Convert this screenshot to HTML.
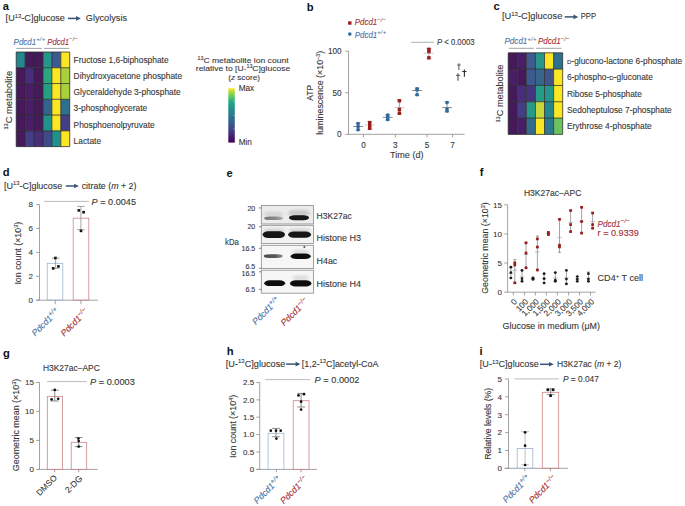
<!DOCTYPE html>
<html><head><meta charset="utf-8"><style>
html,body{margin:0;padding:0;background:#fff;width:685px;height:506px;overflow:hidden}
svg{display:block;font-family:"Liberation Sans", sans-serif}
</style></head><body>
<svg width="685" height="506" viewBox="0 0 685 506">
<rect width="685" height="506" fill="#fff"/>
<text x="2.80" y="10.30" font-size="11.2" fill="#111" font-weight="bold">a</text>
<text x="5.60" y="21.40" font-size="8.6" fill="#363636" stroke="#363636" stroke-width="0.1" textLength="59.30" lengthAdjust="spacingAndGlyphs">[U<tspan dy="-3.6" font-size="5.6">13</tspan><tspan dy="3.6">-C]glucose</tspan></text>
<line x1="67.90" y1="18.40" x2="77.90" y2="18.40" stroke="#3b5476" stroke-width="1.5"/>
<path d="M76.10,16.10 L80.90,18.40 L76.10,20.70 Z" fill="#3b5476"/>
<text x="85.80" y="21.40" font-size="8.6" fill="#363636" stroke="#363636" stroke-width="0.1" textLength="41.20" lengthAdjust="spacingAndGlyphs">Glycolysis</text>
<text x="13.60" y="44.80" font-size="8.6" fill="#4671a5" stroke="#4671a5" stroke-width="0.1" font-style="italic" textLength="31.70" lengthAdjust="spacingAndGlyphs">Pdcd1<tspan dy="-3.4" font-size="6.19" letter-spacing="0.3">+/+</tspan></text>
<text x="47.30" y="44.80" font-size="8.6" fill="#a22c32" stroke="#a22c32" stroke-width="0.1" font-style="italic" textLength="30.70" lengthAdjust="spacingAndGlyphs">Pdcd1<tspan dy="-3.4" font-size="6.19" letter-spacing="0.3">−/−</tspan></text>
<line x1="16.30" y1="48.40" x2="41.90" y2="48.40" stroke="#8a8a8a" stroke-width="0.8" />
<line x1="44.00" y1="48.40" x2="69.30" y2="48.40" stroke="#8a8a8a" stroke-width="0.8" />
<rect x="16.20" y="52.00" width="8.92" height="15.77" fill="#24868e" />
<rect x="25.12" y="52.00" width="8.92" height="15.77" fill="#45195a" />
<rect x="34.04" y="52.00" width="8.92" height="15.77" fill="#45195a" />
<rect x="42.96" y="52.00" width="8.92" height="15.77" fill="#26968a" />
<rect x="51.88" y="52.00" width="8.92" height="15.77" fill="#3b5a8f" />
<rect x="60.80" y="52.00" width="8.92" height="15.77" fill="#fbe623" />
<rect x="16.20" y="67.77" width="8.92" height="15.77" fill="#45195a" />
<rect x="25.12" y="67.77" width="8.92" height="15.77" fill="#472d7b" />
<rect x="34.04" y="67.77" width="8.92" height="15.77" fill="#45195a" />
<rect x="42.96" y="67.77" width="8.92" height="15.77" fill="#2aa57f" />
<rect x="51.88" y="67.77" width="8.92" height="15.77" fill="#fbe623" />
<rect x="60.80" y="67.77" width="8.92" height="15.77" fill="#a8d13c" />
<rect x="16.20" y="83.54" width="8.92" height="15.77" fill="#45195a" />
<rect x="25.12" y="83.54" width="8.92" height="15.77" fill="#481f66" />
<rect x="34.04" y="83.54" width="8.92" height="15.77" fill="#45195a" />
<rect x="42.96" y="83.54" width="8.92" height="15.77" fill="#26a085" />
<rect x="51.88" y="83.54" width="8.92" height="15.77" fill="#fbe623" />
<rect x="60.80" y="83.54" width="8.92" height="15.77" fill="#a8d13c" />
<rect x="16.20" y="99.31" width="8.92" height="15.77" fill="#45195a" />
<rect x="25.12" y="99.31" width="8.92" height="15.77" fill="#481f66" />
<rect x="34.04" y="99.31" width="8.92" height="15.77" fill="#45195a" />
<rect x="42.96" y="99.31" width="8.92" height="15.77" fill="#32658d" />
<rect x="51.88" y="99.31" width="8.92" height="15.77" fill="#fbe623" />
<rect x="60.80" y="99.31" width="8.92" height="15.77" fill="#2d718e" />
<rect x="16.20" y="115.08" width="8.92" height="15.77" fill="#45195a" />
<rect x="25.12" y="115.08" width="8.92" height="15.77" fill="#481f66" />
<rect x="34.04" y="115.08" width="8.92" height="15.77" fill="#45195a" />
<rect x="42.96" y="115.08" width="8.92" height="15.77" fill="#21918c" />
<rect x="51.88" y="115.08" width="8.92" height="15.77" fill="#fbe623" />
<rect x="60.80" y="115.08" width="8.92" height="15.77" fill="#433e85" />
<rect x="16.20" y="130.85" width="8.92" height="15.77" fill="#45195a" />
<rect x="25.12" y="130.85" width="8.92" height="15.77" fill="#433e85" />
<rect x="34.04" y="130.85" width="8.92" height="15.77" fill="#472d7b" />
<rect x="42.96" y="130.85" width="8.92" height="15.77" fill="#404a88" />
<rect x="51.88" y="130.85" width="8.92" height="15.77" fill="#21918c" />
<rect x="60.80" y="130.85" width="8.92" height="15.77" fill="#fbe623" />
<line x1="16.20" y1="52.00" x2="69.72" y2="52.00" stroke="#262626" stroke-width="0.75" />
<line x1="16.20" y1="67.77" x2="69.72" y2="67.77" stroke="#262626" stroke-width="0.75" />
<line x1="16.20" y1="83.54" x2="69.72" y2="83.54" stroke="#262626" stroke-width="0.75" />
<line x1="16.20" y1="99.31" x2="69.72" y2="99.31" stroke="#262626" stroke-width="0.75" />
<line x1="16.20" y1="115.08" x2="69.72" y2="115.08" stroke="#262626" stroke-width="0.75" />
<line x1="16.20" y1="130.85" x2="69.72" y2="130.85" stroke="#262626" stroke-width="0.75" />
<line x1="16.20" y1="146.62" x2="69.72" y2="146.62" stroke="#262626" stroke-width="0.75" />
<line x1="16.20" y1="52.00" x2="16.20" y2="146.62" stroke="#262626" stroke-width="0.75" />
<line x1="25.12" y1="52.00" x2="25.12" y2="146.62" stroke="#262626" stroke-width="0.75" />
<line x1="34.04" y1="52.00" x2="34.04" y2="146.62" stroke="#262626" stroke-width="0.75" />
<line x1="42.96" y1="52.00" x2="42.96" y2="146.62" stroke="#262626" stroke-width="0.75" />
<line x1="51.88" y1="52.00" x2="51.88" y2="146.62" stroke="#262626" stroke-width="0.75" />
<line x1="60.80" y1="52.00" x2="60.80" y2="146.62" stroke="#262626" stroke-width="0.75" />
<line x1="69.72" y1="52.00" x2="69.72" y2="146.62" stroke="#262626" stroke-width="0.75" />
<text x="73.60" y="63.00" font-size="8.4" fill="#363636" stroke="#363636" stroke-width="0.1">Fructose 1,6-biphosphate</text>
<text x="73.60" y="79.16" font-size="8.4" fill="#363636" stroke="#363636" stroke-width="0.1">Dihydroxyacetone phosphate</text>
<text x="73.60" y="95.32" font-size="8.4" fill="#363636" stroke="#363636" stroke-width="0.1">Glyceraldehyde 3-phosphate</text>
<text x="73.60" y="111.48" font-size="8.4" fill="#363636" stroke="#363636" stroke-width="0.1">3-phosphoglycerate</text>
<text x="73.60" y="127.64" font-size="8.4" fill="#363636" stroke="#363636" stroke-width="0.1">Phosphoenolpyruvate</text>
<text x="73.60" y="143.80" font-size="8.4" fill="#363636" stroke="#363636" stroke-width="0.1">Lactate</text>
<text x="11.80" y="100.20" font-size="9.3" fill="#363636" stroke="#363636" stroke-width="0.1" text-anchor="middle" transform="rotate(-90 11.80 100.20)" textLength="58.60" lengthAdjust="spacingAndGlyphs"><tspan dy="-3.4" font-size="5.6">13</tspan><tspan dy="3.4">C metabolite</tspan></text>
<text x="243.00" y="63.10" font-size="8.0" fill="#363636" stroke="#363636" stroke-width="0.1" text-anchor="middle" textLength="91.10" lengthAdjust="spacingAndGlyphs"><tspan dy="-3" font-size="5">13</tspan><tspan dy="3">C metabolite ion count</tspan></text>
<text x="243.00" y="71.40" font-size="8.0" fill="#363636" stroke="#363636" stroke-width="0.1" text-anchor="middle" textLength="94.40" lengthAdjust="spacingAndGlyphs">relative to [U-<tspan dy="-3" font-size="5">13</tspan><tspan dy="3">C]glucose</tspan></text>
<text x="244.10" y="79.80" font-size="8.0" fill="#363636" stroke="#363636" stroke-width="0.1" text-anchor="middle" textLength="31.80" lengthAdjust="spacingAndGlyphs">(<tspan font-style="italic">z</tspan> score)</text>
<defs><linearGradient id="vir" x1="0" y1="1" x2="0" y2="0"><stop offset="0" stop-color="#440154"/><stop offset="0.13" stop-color="#482475"/><stop offset="0.25" stop-color="#414487"/><stop offset="0.38" stop-color="#355f8d"/><stop offset="0.5" stop-color="#2a788e"/><stop offset="0.63" stop-color="#21918c"/><stop offset="0.75" stop-color="#22a884"/><stop offset="0.88" stop-color="#7ad151"/><stop offset="1" stop-color="#fde725"/></linearGradient></defs>
<rect x="228.30" y="88.30" width="6.50" height="54.30" fill="url(#vir)" />
<line x1="233.30" y1="129.03" x2="234.80" y2="129.03" stroke="#ccc" stroke-width="0.6" />
<line x1="233.30" y1="115.45" x2="234.80" y2="115.45" stroke="#ccc" stroke-width="0.6" />
<line x1="233.30" y1="101.88" x2="234.80" y2="101.88" stroke="#ccc" stroke-width="0.6" />
<text x="238.70" y="91.30" font-size="8.2" fill="#363636" stroke="#363636" stroke-width="0.1">Max</text>
<text x="238.70" y="145.30" font-size="8.2" fill="#363636" stroke="#363636" stroke-width="0.1">Min</text>
<text x="306.80" y="10.60" font-size="11.2" fill="#111" font-weight="bold">b</text>
<rect x="348.10" y="21.30" width="3.40" height="3.40" fill="#9b1b1e" />
<text x="354.80" y="25.40" font-size="8.6" fill="#a22c32" stroke="#a22c32" stroke-width="0.1" font-style="italic" textLength="31.50" lengthAdjust="spacingAndGlyphs">Pdcd1<tspan dy="-3.4" font-size="6.19" letter-spacing="0.3">−/−</tspan></text>
<circle cx="349.80" cy="34.10" r="1.8" fill="#2f6a9f"/>
<text x="354.80" y="37.50" font-size="8.6" fill="#4671a5" stroke="#4671a5" stroke-width="0.1" font-style="italic" textLength="31.50" lengthAdjust="spacingAndGlyphs">Pdcd1<tspan dy="-3.4" font-size="6.19" letter-spacing="0.3">+/+</tspan></text>
<line x1="348.50" y1="51.20" x2="348.50" y2="134.30" stroke="#8a8a8a" stroke-width="0.8" />
<line x1="348.10" y1="134.30" x2="464.70" y2="134.30" stroke="#8a8a8a" stroke-width="0.8" />
<line x1="345.30" y1="51.20" x2="348.50" y2="51.20" stroke="#8a8a8a" stroke-width="0.8" />
<text x="341.60" y="54.10" font-size="8.2" fill="#363636" stroke="#363636" stroke-width="0.1" text-anchor="end">100</text>
<line x1="345.30" y1="92.70" x2="348.50" y2="92.70" stroke="#8a8a8a" stroke-width="0.8" />
<text x="341.60" y="95.60" font-size="8.2" fill="#363636" stroke="#363636" stroke-width="0.1" text-anchor="end">50</text>
<line x1="345.30" y1="134.30" x2="348.50" y2="134.30" stroke="#8a8a8a" stroke-width="0.8" />
<text x="341.60" y="137.20" font-size="8.2" fill="#363636" stroke="#363636" stroke-width="0.1" text-anchor="end">0</text>
<line x1="363.50" y1="134.30" x2="363.50" y2="137.40" stroke="#8a8a8a" stroke-width="0.8" />
<text x="363.50" y="147.70" font-size="8.2" fill="#363636" stroke="#363636" stroke-width="0.1" text-anchor="middle">0</text>
<line x1="395.30" y1="134.30" x2="395.30" y2="137.40" stroke="#8a8a8a" stroke-width="0.8" />
<text x="395.30" y="147.70" font-size="8.2" fill="#363636" stroke="#363636" stroke-width="0.1" text-anchor="middle">3</text>
<line x1="427.00" y1="134.30" x2="427.00" y2="137.40" stroke="#8a8a8a" stroke-width="0.8" />
<text x="427.00" y="147.70" font-size="8.2" fill="#363636" stroke="#363636" stroke-width="0.1" text-anchor="middle">5</text>
<line x1="452.60" y1="134.30" x2="452.60" y2="137.40" stroke="#8a8a8a" stroke-width="0.8" />
<text x="452.60" y="147.70" font-size="8.2" fill="#363636" stroke="#363636" stroke-width="0.1" text-anchor="middle">7</text>
<text x="406.80" y="157.60" font-size="8.4" fill="#363636" stroke="#363636" stroke-width="0.1" text-anchor="middle" textLength="33.40" lengthAdjust="spacingAndGlyphs">Time (d)</text>
<text x="312.60" y="92.80" font-size="8.4" fill="#363636" stroke="#363636" stroke-width="0.1" text-anchor="middle" transform="rotate(-90 312.60 92.80)">ATP</text>
<text x="323.20" y="92.80" font-size="8.4" fill="#363636" stroke="#363636" stroke-width="0.1" text-anchor="middle" transform="rotate(-90 323.20 92.80)" textLength="84.00" lengthAdjust="spacingAndGlyphs">luminescence (×10<tspan dy="-3" font-size="5">−3</tspan><tspan dy="3">)</tspan></text>
<line x1="411.20" y1="42.30" x2="434.00" y2="42.30" stroke="#999" stroke-width="0.8" />
<text x="437.00" y="45.20" font-size="8.2" fill="#363636" stroke="#363636" stroke-width="0.1" textLength="37.50" lengthAdjust="spacingAndGlyphs"><tspan font-style="italic">P</tspan> &lt; 0.0003</text>
<line x1="358.10" y1="122.70" x2="358.10" y2="130.40" stroke="#666" stroke-width="0.6" />
<line x1="355.70" y1="122.70" x2="360.50" y2="122.70" stroke="#666" stroke-width="0.6" />
<line x1="355.70" y1="130.40" x2="360.50" y2="130.40" stroke="#666" stroke-width="0.6" />
<line x1="353.20" y1="126.50" x2="363.00" y2="126.50" stroke="#555" stroke-width="0.7" />
<circle cx="358.10" cy="123.50" r="1.85" fill="#2f6a9f"/>
<circle cx="358.10" cy="126.40" r="1.85" fill="#2f6a9f"/>
<circle cx="358.10" cy="129.60" r="1.85" fill="#2f6a9f"/>
<line x1="369.70" y1="121.80" x2="369.70" y2="129.10" stroke="#666" stroke-width="0.6" />
<line x1="367.30" y1="121.80" x2="372.10" y2="121.80" stroke="#666" stroke-width="0.6" />
<line x1="367.30" y1="129.10" x2="372.10" y2="129.10" stroke="#666" stroke-width="0.6" />
<line x1="364.80" y1="124.90" x2="374.60" y2="124.90" stroke="#bbb" stroke-width="0.7" />
<rect x="368.00" y="120.90" width="3.40" height="3.40" fill="#9b1b1e" />
<rect x="368.00" y="123.70" width="3.40" height="3.40" fill="#9b1b1e" />
<rect x="368.00" y="126.60" width="3.40" height="3.40" fill="#9b1b1e" />
<line x1="387.70" y1="114.40" x2="387.70" y2="120.20" stroke="#666" stroke-width="0.6" />
<line x1="385.30" y1="114.40" x2="390.10" y2="114.40" stroke="#666" stroke-width="0.6" />
<line x1="385.30" y1="120.20" x2="390.10" y2="120.20" stroke="#666" stroke-width="0.6" />
<line x1="382.80" y1="117.30" x2="392.60" y2="117.30" stroke="#555" stroke-width="0.7" />
<circle cx="387.70" cy="115.20" r="1.85" fill="#2f6a9f"/>
<circle cx="387.70" cy="117.30" r="1.85" fill="#2f6a9f"/>
<circle cx="387.70" cy="119.40" r="1.85" fill="#2f6a9f"/>
<line x1="399.40" y1="100.00" x2="399.40" y2="114.00" stroke="#666" stroke-width="0.6" />
<line x1="397.00" y1="100.00" x2="401.80" y2="100.00" stroke="#666" stroke-width="0.6" />
<line x1="397.00" y1="114.00" x2="401.80" y2="114.00" stroke="#666" stroke-width="0.6" />
<line x1="394.50" y1="107.50" x2="404.30" y2="107.50" stroke="#bbb" stroke-width="0.7" />
<rect x="397.70" y="99.10" width="3.40" height="3.40" fill="#9b1b1e" />
<rect x="397.70" y="107.70" width="3.40" height="3.40" fill="#9b1b1e" />
<rect x="397.70" y="111.50" width="3.40" height="3.40" fill="#9b1b1e" />
<line x1="417.10" y1="88.00" x2="417.10" y2="95.40" stroke="#666" stroke-width="0.6" />
<line x1="414.70" y1="88.00" x2="419.50" y2="88.00" stroke="#666" stroke-width="0.6" />
<line x1="414.70" y1="95.40" x2="419.50" y2="95.40" stroke="#666" stroke-width="0.6" />
<line x1="412.20" y1="90.50" x2="422.00" y2="90.50" stroke="#555" stroke-width="0.7" />
<circle cx="417.10" cy="88.80" r="1.85" fill="#2f6a9f"/>
<circle cx="417.10" cy="90.00" r="1.85" fill="#2f6a9f"/>
<circle cx="417.10" cy="94.60" r="1.85" fill="#2f6a9f"/>
<line x1="428.90" y1="48.50" x2="428.90" y2="58.60" stroke="#666" stroke-width="0.6" />
<line x1="426.50" y1="48.50" x2="431.30" y2="48.50" stroke="#666" stroke-width="0.6" />
<line x1="426.50" y1="58.60" x2="431.30" y2="58.60" stroke="#666" stroke-width="0.6" />
<line x1="424.00" y1="53.30" x2="433.80" y2="53.30" stroke="#bbb" stroke-width="0.7" />
<rect x="427.20" y="47.60" width="3.40" height="3.40" fill="#9b1b1e" />
<rect x="427.20" y="49.80" width="3.40" height="3.40" fill="#9b1b1e" />
<rect x="427.20" y="56.10" width="3.40" height="3.40" fill="#9b1b1e" />
<line x1="447.00" y1="101.80" x2="447.00" y2="111.80" stroke="#666" stroke-width="0.6" />
<line x1="444.60" y1="101.80" x2="449.40" y2="101.80" stroke="#666" stroke-width="0.6" />
<line x1="444.60" y1="111.80" x2="449.40" y2="111.80" stroke="#666" stroke-width="0.6" />
<line x1="442.10" y1="107.60" x2="451.90" y2="107.60" stroke="#555" stroke-width="0.7" />
<circle cx="447.00" cy="102.60" r="1.85" fill="#2f6a9f"/>
<circle cx="447.00" cy="109.00" r="1.85" fill="#2f6a9f"/>
<circle cx="447.00" cy="111.00" r="1.85" fill="#2f6a9f"/>
<line x1="458.90" y1="63.20" x2="458.90" y2="69.90" stroke="#666" stroke-width="1.15" />
<line x1="457.00" y1="65.00" x2="460.80" y2="65.00" stroke="#666" stroke-width="1.0" />
<line x1="458.00" y1="73.30" x2="458.00" y2="80.70" stroke="#555" stroke-width="1.15" />
<line x1="455.90" y1="75.40" x2="460.10" y2="75.40" stroke="#555" stroke-width="1.0" />
<line x1="464.40" y1="69.40" x2="464.40" y2="76.80" stroke="#333" stroke-width="1.15" />
<line x1="462.20" y1="71.50" x2="466.60" y2="71.50" stroke="#333" stroke-width="1.0" />
<text x="493.60" y="10.30" font-size="11.2" fill="#111" font-weight="bold">c</text>
<text x="502.00" y="19.30" font-size="8.6" fill="#363636" stroke="#363636" stroke-width="0.1" textLength="60.30" lengthAdjust="spacingAndGlyphs">[U<tspan dy="-3.6" font-size="5.6">13</tspan><tspan dy="3.6">-C]glucose</tspan></text>
<line x1="564.70" y1="16.90" x2="575.30" y2="16.90" stroke="#3b5476" stroke-width="1.5"/>
<path d="M573.50,14.60 L578.30,16.90 L573.50,19.20 Z" fill="#3b5476"/>
<text x="580.70" y="19.30" font-size="8.6" fill="#363636" stroke="#363636" stroke-width="0.1" textLength="15.30" lengthAdjust="spacingAndGlyphs">PPP</text>
<text x="504.50" y="44.20" font-size="8.6" fill="#4671a5" stroke="#4671a5" stroke-width="0.1" font-style="italic" textLength="32.10" lengthAdjust="spacingAndGlyphs">Pdcd1<tspan dy="-3.4" font-size="6.19" letter-spacing="0.3">+/+</tspan></text>
<text x="537.90" y="44.20" font-size="8.6" fill="#a22c32" stroke="#a22c32" stroke-width="0.1" font-style="italic" textLength="31.90" lengthAdjust="spacingAndGlyphs">Pdcd1<tspan dy="-3.4" font-size="6.19" letter-spacing="0.3">−/−</tspan></text>
<line x1="508.80" y1="48.30" x2="533.90" y2="48.30" stroke="#8a8a8a" stroke-width="0.8" />
<line x1="536.00" y1="48.30" x2="561.50" y2="48.30" stroke="#8a8a8a" stroke-width="0.8" />
<rect x="508.20" y="52.80" width="9.08" height="16.32" fill="#45195a" />
<rect x="517.28" y="52.80" width="9.08" height="16.32" fill="#481f66" />
<rect x="526.36" y="52.80" width="9.08" height="16.32" fill="#3f5a8e" />
<rect x="535.44" y="52.80" width="9.08" height="16.32" fill="#26968a" />
<rect x="544.52" y="52.80" width="9.08" height="16.32" fill="#fbe623" />
<rect x="553.60" y="52.80" width="9.08" height="16.32" fill="#2d718e" />
<rect x="508.20" y="69.12" width="9.08" height="16.32" fill="#481f66" />
<rect x="517.28" y="69.12" width="9.08" height="16.32" fill="#45195a" />
<rect x="526.36" y="69.12" width="9.08" height="16.32" fill="#3b5a8f" />
<rect x="535.44" y="69.12" width="9.08" height="16.32" fill="#37658c" />
<rect x="544.52" y="69.12" width="9.08" height="16.32" fill="#41558b" />
<rect x="553.60" y="69.12" width="9.08" height="16.32" fill="#fbe623" />
<rect x="508.20" y="85.44" width="9.08" height="16.32" fill="#45195a" />
<rect x="517.28" y="85.44" width="9.08" height="16.32" fill="#472d7b" />
<rect x="526.36" y="85.44" width="9.08" height="16.32" fill="#45357f" />
<rect x="535.44" y="85.44" width="9.08" height="16.32" fill="#259c87" />
<rect x="544.52" y="85.44" width="9.08" height="16.32" fill="#26968a" />
<rect x="553.60" y="85.44" width="9.08" height="16.32" fill="#fbe623" />
<rect x="508.20" y="101.76" width="9.08" height="16.32" fill="#45195a" />
<rect x="517.28" y="101.76" width="9.08" height="16.32" fill="#453e85" />
<rect x="526.36" y="101.76" width="9.08" height="16.32" fill="#269a88" />
<rect x="535.44" y="101.76" width="9.08" height="16.32" fill="#c6d83a" />
<rect x="544.52" y="101.76" width="9.08" height="16.32" fill="#24868e" />
<rect x="553.60" y="101.76" width="9.08" height="16.32" fill="#fbe623" />
<rect x="508.20" y="118.08" width="9.08" height="16.32" fill="#45195a" />
<rect x="517.28" y="118.08" width="9.08" height="16.32" fill="#481f66" />
<rect x="526.36" y="118.08" width="9.08" height="16.32" fill="#336b8d" />
<rect x="535.44" y="118.08" width="9.08" height="16.32" fill="#fbe623" />
<rect x="544.52" y="118.08" width="9.08" height="16.32" fill="#2c7a8e" />
<rect x="553.60" y="118.08" width="9.08" height="16.32" fill="#6cc25f" />
<line x1="508.20" y1="52.80" x2="562.68" y2="52.80" stroke="#262626" stroke-width="0.75" />
<line x1="508.20" y1="69.12" x2="562.68" y2="69.12" stroke="#262626" stroke-width="0.75" />
<line x1="508.20" y1="85.44" x2="562.68" y2="85.44" stroke="#262626" stroke-width="0.75" />
<line x1="508.20" y1="101.76" x2="562.68" y2="101.76" stroke="#262626" stroke-width="0.75" />
<line x1="508.20" y1="118.08" x2="562.68" y2="118.08" stroke="#262626" stroke-width="0.75" />
<line x1="508.20" y1="134.40" x2="562.68" y2="134.40" stroke="#262626" stroke-width="0.75" />
<line x1="508.20" y1="52.80" x2="508.20" y2="134.40" stroke="#262626" stroke-width="0.75" />
<line x1="517.28" y1="52.80" x2="517.28" y2="134.40" stroke="#262626" stroke-width="0.75" />
<line x1="526.36" y1="52.80" x2="526.36" y2="134.40" stroke="#262626" stroke-width="0.75" />
<line x1="535.44" y1="52.80" x2="535.44" y2="134.40" stroke="#262626" stroke-width="0.75" />
<line x1="544.52" y1="52.80" x2="544.52" y2="134.40" stroke="#262626" stroke-width="0.75" />
<line x1="553.60" y1="52.80" x2="553.60" y2="134.40" stroke="#262626" stroke-width="0.75" />
<line x1="562.68" y1="52.80" x2="562.68" y2="134.40" stroke="#262626" stroke-width="0.75" />
<text x="566.90" y="64.10" font-size="8.4" fill="#363636" stroke="#363636" stroke-width="0.1"><tspan font-size="6.2">D</tspan>-glucono-lactone 6-phosphate</text>
<text x="566.90" y="80.42" font-size="8.4" fill="#363636" stroke="#363636" stroke-width="0.1">6-phospho-<tspan font-size="6.2">D</tspan>-gluconate</text>
<text x="566.90" y="96.74" font-size="8.4" fill="#363636" stroke="#363636" stroke-width="0.1">Ribose 5-phosphate</text>
<text x="566.90" y="113.06" font-size="8.4" fill="#363636" stroke="#363636" stroke-width="0.1">Sedoheptulose 7-phosphate</text>
<text x="566.90" y="129.38" font-size="8.4" fill="#363636" stroke="#363636" stroke-width="0.1">Erythrose 4-phosphate</text>
<text x="503.30" y="93.50" font-size="9.3" fill="#363636" stroke="#363636" stroke-width="0.1" text-anchor="middle" transform="rotate(-90 503.30 93.50)" textLength="58.00" lengthAdjust="spacingAndGlyphs"><tspan dy="-3.4" font-size="5.6">13</tspan><tspan dy="3.4">C metabolite</tspan></text>
<text x="2.80" y="176.30" font-size="11.2" fill="#111" font-weight="bold">d</text>
<text x="4.00" y="188.90" font-size="8.6" fill="#363636" stroke="#363636" stroke-width="0.1" textLength="58.30" lengthAdjust="spacingAndGlyphs">[U<tspan dy="-3.6" font-size="5.6">13</tspan><tspan dy="3.6">-C]glucose</tspan></text>
<line x1="65.80" y1="186.00" x2="75.90" y2="186.00" stroke="#3b5476" stroke-width="1.5"/>
<path d="M74.10,183.70 L78.90,186.00 L74.10,188.30 Z" fill="#3b5476"/>
<text x="81.70" y="188.90" font-size="8.6" fill="#363636" stroke="#363636" stroke-width="0.1" textLength="54.80" lengthAdjust="spacingAndGlyphs">citrate (<tspan font-style="italic">m</tspan> + 2)</text>
<line x1="44.00" y1="201.40" x2="88.90" y2="201.40" stroke="#aaa" stroke-width="0.8" />
<text x="91.60" y="204.50" font-size="8.4" fill="#363636" stroke="#363636" stroke-width="0.1" textLength="44.40" lengthAdjust="spacingAndGlyphs"><tspan font-style="italic">P</tspan> = 0.0045</text>
<line x1="39.50" y1="204.50" x2="39.50" y2="300.20" stroke="#8a8a8a" stroke-width="0.8" />
<line x1="36.40" y1="300.20" x2="97.80" y2="300.20" stroke="#8a8a8a" stroke-width="0.8" />
<line x1="36.10" y1="204.50" x2="39.50" y2="204.50" stroke="#8a8a8a" stroke-width="0.8" />
<text x="32.90" y="207.30" font-size="8.0" fill="#363636" stroke="#363636" stroke-width="0.1" text-anchor="end">8</text>
<line x1="36.10" y1="228.40" x2="39.50" y2="228.40" stroke="#8a8a8a" stroke-width="0.8" />
<text x="32.90" y="231.20" font-size="8.0" fill="#363636" stroke="#363636" stroke-width="0.1" text-anchor="end">6</text>
<line x1="36.10" y1="252.40" x2="39.50" y2="252.40" stroke="#8a8a8a" stroke-width="0.8" />
<text x="32.90" y="255.20" font-size="8.0" fill="#363636" stroke="#363636" stroke-width="0.1" text-anchor="end">4</text>
<line x1="36.10" y1="276.30" x2="39.50" y2="276.30" stroke="#8a8a8a" stroke-width="0.8" />
<text x="32.90" y="279.10" font-size="8.0" fill="#363636" stroke="#363636" stroke-width="0.1" text-anchor="end">2</text>
<line x1="36.10" y1="300.20" x2="39.50" y2="300.20" stroke="#8a8a8a" stroke-width="0.8" />
<text x="32.90" y="303.00" font-size="8.0" fill="#363636" stroke="#363636" stroke-width="0.1" text-anchor="end">0</text>
<rect x="47.20" y="263.30" width="15.60" height="36.90" fill="none" stroke="#9db4d3" stroke-width="0.8" />
<rect x="73.20" y="218.20" width="15.60" height="82.00" fill="none" stroke="#cc8689" stroke-width="0.8" />
<line x1="55.20" y1="300.20" x2="55.20" y2="304.20" stroke="#8a8a8a" stroke-width="0.8" />
<line x1="80.90" y1="300.20" x2="80.90" y2="304.20" stroke="#8a8a8a" stroke-width="0.8" />
<line x1="55.60" y1="258.20" x2="55.60" y2="268.30" stroke="#888" stroke-width="0.75" />
<line x1="51.80" y1="258.20" x2="59.40" y2="258.20" stroke="#888" stroke-width="0.75" />
<line x1="51.80" y1="268.30" x2="59.40" y2="268.30" stroke="#888" stroke-width="0.75" />
<line x1="80.90" y1="206.40" x2="80.90" y2="229.70" stroke="#888" stroke-width="0.75" />
<line x1="77.10" y1="206.40" x2="84.70" y2="206.40" stroke="#888" stroke-width="0.75" />
<line x1="77.10" y1="229.70" x2="84.70" y2="229.70" stroke="#888" stroke-width="0.75" />
<rect x="54.10" y="256.70" width="2.60" height="2.60" fill="#111" />
<rect x="51.90" y="267.10" width="2.60" height="2.60" fill="#111" />
<rect x="57.10" y="265.10" width="2.60" height="2.60" fill="#111" />
<rect x="77.50" y="209.10" width="2.60" height="2.60" fill="#111" />
<rect x="82.30" y="210.90" width="2.60" height="2.60" fill="#111" />
<rect x="79.70" y="229.60" width="2.60" height="2.60" fill="#111" />
<text x="21.20" y="253.20" font-size="8.4" fill="#363636" stroke="#363636" stroke-width="0.1" text-anchor="middle" transform="rotate(-90 21.20 253.20)" textLength="62.80" lengthAdjust="spacingAndGlyphs">Ion count (×10<tspan dy="-3" font-size="5.2">3</tspan><tspan dy="3">)</tspan></text>
<text x="60.00" y="311.80" font-size="8.8" fill="#4671a5" stroke="#4671a5" stroke-width="0.1" text-anchor="end" font-style="italic" transform="rotate(-45 60.00 311.80)">Pdcd1<tspan dy="-3.4" font-size="6.34" letter-spacing="0.3">+/+</tspan></text>
<text x="89.00" y="312.00" font-size="8.8" fill="#a22c32" stroke="#a22c32" stroke-width="0.1" text-anchor="end" font-style="italic" transform="rotate(-45 89.00 312.00)">Pdcd1<tspan dy="-3.4" font-size="6.34" letter-spacing="0.3">−/−</tspan></text>
<text x="226.60" y="176.90" font-size="11.2" fill="#111" font-weight="bold">e</text>
<defs><filter id="bl1" x="-30%" y="-100%" width="160%" height="300%"><feGaussianBlur stdDeviation="0.75"/></filter><filter id="bl2" x="-30%" y="-100%" width="160%" height="300%"><feGaussianBlur stdDeviation="1.8"/></filter></defs>
<rect x="261.30" y="205.40" width="52.10" height="18.60" fill="#ececec" />
<rect x="261.30" y="225.30" width="52.10" height="18.30" fill="#f2f2f2" />
<rect x="261.30" y="245.30" width="52.10" height="23.30" fill="#f6f6f6" />
<rect x="261.30" y="270.20" width="52.10" height="23.00" fill="#f6f6f6" />
<defs><linearGradient id="tap" x1="0" x2="1" y1="0" y2="0"><stop offset="0" stop-color="#4a4a4a"/><stop offset="0.6" stop-color="#5a5a5a"/><stop offset="1" stop-color="#8a8a8a"/></linearGradient><linearGradient id="tap2" x1="0" x2="1" y1="0" y2="0"><stop offset="0" stop-color="#777"/><stop offset="0.6" stop-color="#8a8a8a"/><stop offset="1" stop-color="#b0b0b0"/></linearGradient></defs>
<rect x="263.50" y="212.05" width="20.00" height="4.50" rx="5.50" ry="2.25" fill="#d0d0d0" fill-opacity="0.9" filter="url(#bl2)"/>
<rect x="288.00" y="210.00" width="22.00" height="6.00" rx="5.50" ry="3.00" fill="#c4c4c4" fill-opacity="0.9" filter="url(#bl2)"/>
<rect x="264.10" y="216.40" width="19.00" height="3.60" rx="5.50" ry="1.80" fill="url(#tap2)" fill-opacity="1.0" filter="url(#bl1)"/>
<rect x="289.00" y="215.30" width="20.00" height="5.00" rx="5.50" ry="2.50" fill="#121212" fill-opacity="1.0" filter="url(#bl1)"/>
<rect x="262.80" y="228.80" width="22.00" height="4.00" rx="5.50" ry="2.00" fill="#c0c0c0" fill-opacity="0.7" filter="url(#bl2)"/>
<rect x="288.60" y="228.80" width="22.00" height="4.00" rx="5.50" ry="2.00" fill="#c0c0c0" fill-opacity="0.7" filter="url(#bl2)"/>
<rect x="262.60" y="231.30" width="22.40" height="6.60" rx="5.50" ry="3.30" fill="#141414" fill-opacity="1.0" filter="url(#bl1)"/>
<rect x="288.10" y="231.50" width="23.00" height="6.20" rx="5.50" ry="3.10" fill="#161616" fill-opacity="1.0" filter="url(#bl1)"/>
<rect x="263.70" y="254.20" width="19.00" height="3.80" rx="5.50" ry="1.90" fill="url(#tap)" fill-opacity="1.0" filter="url(#bl1)"/>
<rect x="291.70" y="250.00" width="18.00" height="4.00" rx="5.50" ry="2.00" fill="#cfcfcf" fill-opacity="0.7" filter="url(#bl2)"/>
<rect x="290.60" y="253.60" width="20.20" height="5.40" rx="5.50" ry="2.70" fill="#101010" fill-opacity="1.0" filter="url(#bl1)"/>
<circle cx="304.40" cy="246.90" r="1.0" fill="#555"/>
<rect x="292.70" y="275.50" width="16.00" height="5.00" rx="5.50" ry="2.50" fill="#cfcfcf" fill-opacity="0.7" filter="url(#bl2)"/>
<rect x="264.20" y="280.30" width="21.00" height="5.80" rx="5.50" ry="2.90" fill="#101010" fill-opacity="1.0" filter="url(#bl1)"/>
<rect x="290.00" y="280.30" width="21.40" height="6.20" rx="5.50" ry="3.10" fill="#101010" fill-opacity="1.0" filter="url(#bl1)"/>
<rect x="261.30" y="205.40" width="52.10" height="18.60" fill="none" stroke="#8a8a8a" stroke-width="0.8" />
<rect x="261.30" y="225.30" width="52.10" height="18.30" fill="none" stroke="#8a8a8a" stroke-width="0.8" />
<rect x="261.30" y="245.30" width="52.10" height="23.30" fill="none" stroke="#8a8a8a" stroke-width="0.8" />
<rect x="261.30" y="270.20" width="52.10" height="23.00" fill="none" stroke="#8a8a8a" stroke-width="0.8" />
<line x1="258.90" y1="207.90" x2="261.30" y2="207.90" stroke="#555" stroke-width="0.7" />
<text x="255.30" y="210.55" font-size="7.1" fill="#363636" stroke="#363636" stroke-width="0.1" text-anchor="end">20</text>
<line x1="258.90" y1="226.80" x2="261.30" y2="226.80" stroke="#555" stroke-width="0.7" />
<text x="255.30" y="229.45" font-size="7.1" fill="#363636" stroke="#363636" stroke-width="0.1" text-anchor="end">20</text>
<line x1="258.90" y1="248.30" x2="261.30" y2="248.30" stroke="#555" stroke-width="0.7" />
<text x="255.30" y="251.15" font-size="7.1" fill="#363636" stroke="#363636" stroke-width="0.1" text-anchor="end">16.5</text>
<line x1="258.90" y1="268.30" x2="261.30" y2="268.30" stroke="#555" stroke-width="0.7" />
<text x="255.30" y="269.25" font-size="7.1" fill="#363636" stroke="#363636" stroke-width="0.1" text-anchor="end">6.5</text>
<line x1="258.90" y1="271.80" x2="261.30" y2="271.80" stroke="#555" stroke-width="0.7" />
<text x="255.30" y="276.25" font-size="7.1" fill="#363636" stroke="#363636" stroke-width="0.1" text-anchor="end">16.5</text>
<line x1="258.90" y1="289.40" x2="261.30" y2="289.40" stroke="#555" stroke-width="0.7" />
<text x="255.30" y="291.85" font-size="7.1" fill="#363636" stroke="#363636" stroke-width="0.1" text-anchor="end">6.5</text>
<text x="225.10" y="245.10" font-size="8.4" fill="#363636" stroke="#363636" stroke-width="0.1" textLength="13.80" lengthAdjust="spacingAndGlyphs">kDa</text>
<text x="316.60" y="218.70" font-size="8.4" fill="#363636" stroke="#363636" stroke-width="0.1" textLength="35.20" lengthAdjust="spacingAndGlyphs">H3K27ac</text>
<text x="316.60" y="240.90" font-size="8.4" fill="#363636" stroke="#363636" stroke-width="0.1" textLength="44.50" lengthAdjust="spacingAndGlyphs">Histone H3</text>
<text x="316.60" y="264.30" font-size="8.4" fill="#363636" stroke="#363636" stroke-width="0.1" textLength="20.70" lengthAdjust="spacingAndGlyphs">H4ac</text>
<text x="316.60" y="286.70" font-size="8.4" fill="#363636" stroke="#363636" stroke-width="0.1" textLength="44.50" lengthAdjust="spacingAndGlyphs">Histone H4</text>
<text x="280.60" y="300.50" font-size="8.8" fill="#4671a5" stroke="#4671a5" stroke-width="0.1" text-anchor="end" font-style="italic" transform="rotate(-45 280.60 300.50)">Pdcd1<tspan dy="-3.4" font-size="6.34" letter-spacing="0.3">+/+</tspan></text>
<text x="309.10" y="301.60" font-size="8.8" fill="#a22c32" stroke="#a22c32" stroke-width="0.1" text-anchor="end" font-style="italic" transform="rotate(-45 309.10 301.60)">Pdcd1<tspan dy="-3.4" font-size="6.34" letter-spacing="0.3">−/−</tspan></text>
<text x="479.80" y="176.20" font-size="11.2" fill="#111" font-weight="bold">f</text>
<text x="552.70" y="196.20" font-size="8.4" fill="#363636" stroke="#363636" stroke-width="0.1" text-anchor="middle" textLength="57.60" lengthAdjust="spacingAndGlyphs">H3K27ac–APC</text>
<line x1="507.60" y1="204.80" x2="507.60" y2="292.20" stroke="#8a8a8a" stroke-width="0.8" />
<line x1="507.60" y1="292.20" x2="595.60" y2="292.20" stroke="#8a8a8a" stroke-width="0.8" />
<line x1="504.20" y1="204.80" x2="507.60" y2="204.80" stroke="#8a8a8a" stroke-width="0.8" />
<text x="501.90" y="207.60" font-size="8.0" fill="#363636" stroke="#363636" stroke-width="0.1" text-anchor="end">15</text>
<line x1="504.20" y1="233.90" x2="507.60" y2="233.90" stroke="#8a8a8a" stroke-width="0.8" />
<text x="501.90" y="236.70" font-size="8.0" fill="#363636" stroke="#363636" stroke-width="0.1" text-anchor="end">10</text>
<line x1="504.20" y1="263.00" x2="507.60" y2="263.00" stroke="#8a8a8a" stroke-width="0.8" />
<text x="501.90" y="265.80" font-size="8.0" fill="#363636" stroke="#363636" stroke-width="0.1" text-anchor="end">5</text>
<line x1="504.20" y1="292.20" x2="507.60" y2="292.20" stroke="#8a8a8a" stroke-width="0.8" />
<text x="501.90" y="295.00" font-size="8.0" fill="#363636" stroke="#363636" stroke-width="0.1" text-anchor="end">0</text>
<line x1="513.30" y1="292.20" x2="513.30" y2="295.40" stroke="#8a8a8a" stroke-width="0.8" />
<line x1="524.60" y1="292.20" x2="524.60" y2="295.40" stroke="#8a8a8a" stroke-width="0.8" />
<line x1="535.40" y1="292.20" x2="535.40" y2="295.40" stroke="#8a8a8a" stroke-width="0.8" />
<line x1="546.30" y1="292.20" x2="546.30" y2="295.40" stroke="#8a8a8a" stroke-width="0.8" />
<line x1="557.40" y1="292.20" x2="557.40" y2="295.40" stroke="#8a8a8a" stroke-width="0.8" />
<line x1="568.60" y1="292.20" x2="568.60" y2="295.40" stroke="#8a8a8a" stroke-width="0.8" />
<line x1="579.50" y1="292.20" x2="579.50" y2="295.40" stroke="#8a8a8a" stroke-width="0.8" />
<line x1="590.50" y1="292.20" x2="590.50" y2="295.40" stroke="#8a8a8a" stroke-width="0.8" />
<text x="517.50" y="302.30" font-size="8.2" fill="#363636" stroke="#363636" stroke-width="0.1" text-anchor="end" transform="rotate(-45 517.50 302.30)">0</text>
<text x="528.80" y="302.30" font-size="8.2" fill="#363636" stroke="#363636" stroke-width="0.1" text-anchor="end" transform="rotate(-45 528.80 302.30)">100</text>
<text x="539.60" y="302.30" font-size="8.2" fill="#363636" stroke="#363636" stroke-width="0.1" text-anchor="end" transform="rotate(-45 539.60 302.30)">1,000</text>
<text x="550.50" y="302.30" font-size="8.2" fill="#363636" stroke="#363636" stroke-width="0.1" text-anchor="end" transform="rotate(-45 550.50 302.30)">1,500</text>
<text x="561.60" y="302.30" font-size="8.2" fill="#363636" stroke="#363636" stroke-width="0.1" text-anchor="end" transform="rotate(-45 561.60 302.30)">2,000</text>
<text x="572.80" y="302.30" font-size="8.2" fill="#363636" stroke="#363636" stroke-width="0.1" text-anchor="end" transform="rotate(-45 572.80 302.30)">3,000</text>
<text x="583.70" y="302.30" font-size="8.2" fill="#363636" stroke="#363636" stroke-width="0.1" text-anchor="end" transform="rotate(-45 583.70 302.30)">3,500</text>
<text x="594.70" y="302.30" font-size="8.2" fill="#363636" stroke="#363636" stroke-width="0.1" text-anchor="end" transform="rotate(-45 594.70 302.30)">4,000</text>
<text x="551.30" y="329.00" font-size="8.4" fill="#363636" stroke="#363636" stroke-width="0.1" text-anchor="middle" textLength="97.40" lengthAdjust="spacingAndGlyphs">Glucose in medium (μM)</text>
<text x="488.40" y="248.00" font-size="8.4" fill="#363636" stroke="#363636" stroke-width="0.1" text-anchor="middle" transform="rotate(-90 488.40 248.00)" textLength="91.50" lengthAdjust="spacingAndGlyphs">Geometric mean (×10<tspan dy="-3" font-size="5.2">3</tspan><tspan dy="3">)</tspan></text>
<text x="597.60" y="226.50" font-size="8.4" fill="#a22c32" stroke="#a22c32" stroke-width="0.1" font-style="italic" textLength="32.40" lengthAdjust="spacingAndGlyphs">Pdcd1<tspan dy="-3.4" font-size="6.05" letter-spacing="0.3">−/−</tspan></text>
<text x="597.60" y="235.60" font-size="8.4" fill="#a22c32" stroke="#a22c32" stroke-width="0.1" textLength="41.30" lengthAdjust="spacingAndGlyphs">r = 0.9339</text>
<text x="597.60" y="280.60" font-size="8.4" fill="#363636" stroke="#363636" stroke-width="0.1" textLength="45.40" lengthAdjust="spacingAndGlyphs">CD4<tspan dy="-3" font-size="5.6">+</tspan><tspan dy="3"> T cell</tspan></text>
<line x1="510.90" y1="267.20" x2="510.90" y2="278.00" stroke="#666" stroke-width="0.6" />
<line x1="509.30" y1="267.20" x2="512.50" y2="267.20" stroke="#666" stroke-width="0.6" />
<line x1="509.30" y1="278.00" x2="512.50" y2="278.00" stroke="#666" stroke-width="0.6" />
<line x1="508.60" y1="273.70" x2="513.20" y2="273.70" stroke="#999" stroke-width="0.6" />
<circle cx="510.90" cy="267.20" r="1.35" fill="#1a1a1a"/>
<circle cx="510.90" cy="272.60" r="1.35" fill="#1a1a1a"/>
<circle cx="510.90" cy="278.00" r="1.35" fill="#1a1a1a"/>
<line x1="522.00" y1="270.40" x2="522.00" y2="281.30" stroke="#666" stroke-width="0.6" />
<line x1="520.40" y1="270.40" x2="523.60" y2="270.40" stroke="#666" stroke-width="0.6" />
<line x1="520.40" y1="281.30" x2="523.60" y2="281.30" stroke="#666" stroke-width="0.6" />
<line x1="519.70" y1="276.80" x2="524.30" y2="276.80" stroke="#999" stroke-width="0.6" />
<circle cx="522.00" cy="270.40" r="1.35" fill="#1a1a1a"/>
<circle cx="522.00" cy="278.70" r="1.35" fill="#1a1a1a"/>
<circle cx="522.00" cy="281.30" r="1.35" fill="#1a1a1a"/>
<line x1="533.00" y1="277.80" x2="533.00" y2="279.40" stroke="#666" stroke-width="0.6" />
<line x1="531.40" y1="277.80" x2="534.60" y2="277.80" stroke="#666" stroke-width="0.6" />
<line x1="531.40" y1="279.40" x2="534.60" y2="279.40" stroke="#666" stroke-width="0.6" />
<line x1="530.70" y1="278.60" x2="535.30" y2="278.60" stroke="#999" stroke-width="0.6" />
<circle cx="533.00" cy="277.80" r="1.35" fill="#1a1a1a"/>
<circle cx="533.00" cy="278.60" r="1.35" fill="#1a1a1a"/>
<circle cx="533.00" cy="279.40" r="1.35" fill="#1a1a1a"/>
<line x1="544.10" y1="273.70" x2="544.10" y2="283.00" stroke="#666" stroke-width="0.6" />
<line x1="542.50" y1="273.70" x2="545.70" y2="273.70" stroke="#666" stroke-width="0.6" />
<line x1="542.50" y1="283.00" x2="545.70" y2="283.00" stroke="#666" stroke-width="0.6" />
<line x1="541.80" y1="278.50" x2="546.40" y2="278.50" stroke="#999" stroke-width="0.6" />
<circle cx="544.10" cy="273.70" r="1.35" fill="#1a1a1a"/>
<circle cx="544.10" cy="278.70" r="1.35" fill="#1a1a1a"/>
<circle cx="544.10" cy="283.00" r="1.35" fill="#1a1a1a"/>
<line x1="555.30" y1="272.60" x2="555.30" y2="281.30" stroke="#666" stroke-width="0.6" />
<line x1="553.70" y1="272.60" x2="556.90" y2="272.60" stroke="#666" stroke-width="0.6" />
<line x1="553.70" y1="281.30" x2="556.90" y2="281.30" stroke="#666" stroke-width="0.6" />
<line x1="553.00" y1="278.00" x2="557.60" y2="278.00" stroke="#999" stroke-width="0.6" />
<circle cx="555.30" cy="272.60" r="1.35" fill="#1a1a1a"/>
<circle cx="555.30" cy="280.20" r="1.35" fill="#1a1a1a"/>
<circle cx="555.30" cy="281.30" r="1.35" fill="#1a1a1a"/>
<line x1="566.40" y1="270.40" x2="566.40" y2="283.90" stroke="#666" stroke-width="0.6" />
<line x1="564.80" y1="270.40" x2="568.00" y2="270.40" stroke="#666" stroke-width="0.6" />
<line x1="564.80" y1="283.90" x2="568.00" y2="283.90" stroke="#666" stroke-width="0.6" />
<line x1="564.10" y1="277.80" x2="568.70" y2="277.80" stroke="#999" stroke-width="0.6" />
<circle cx="566.40" cy="270.40" r="1.35" fill="#1a1a1a"/>
<circle cx="566.40" cy="279.10" r="1.35" fill="#1a1a1a"/>
<circle cx="566.40" cy="283.90" r="1.35" fill="#1a1a1a"/>
<line x1="577.30" y1="276.50" x2="577.30" y2="281.30" stroke="#666" stroke-width="0.6" />
<line x1="575.70" y1="276.50" x2="578.90" y2="276.50" stroke="#666" stroke-width="0.6" />
<line x1="575.70" y1="281.30" x2="578.90" y2="281.30" stroke="#666" stroke-width="0.6" />
<line x1="575.00" y1="279.00" x2="579.60" y2="279.00" stroke="#999" stroke-width="0.6" />
<circle cx="577.30" cy="276.50" r="1.35" fill="#1a1a1a"/>
<circle cx="577.30" cy="279.00" r="1.35" fill="#1a1a1a"/>
<circle cx="577.30" cy="281.30" r="1.35" fill="#1a1a1a"/>
<line x1="588.40" y1="272.00" x2="588.40" y2="281.30" stroke="#666" stroke-width="0.6" />
<line x1="586.80" y1="272.00" x2="590.00" y2="272.00" stroke="#666" stroke-width="0.6" />
<line x1="586.80" y1="281.30" x2="590.00" y2="281.30" stroke="#666" stroke-width="0.6" />
<line x1="586.10" y1="278.00" x2="590.70" y2="278.00" stroke="#999" stroke-width="0.6" />
<circle cx="588.40" cy="273.70" r="1.35" fill="#1a1a1a"/>
<circle cx="588.40" cy="279.00" r="1.35" fill="#1a1a1a"/>
<circle cx="588.40" cy="281.30" r="1.35" fill="#1a1a1a"/>
<line x1="514.80" y1="259.60" x2="514.80" y2="283.50" stroke="#666" stroke-width="0.6" />
<line x1="513.20" y1="259.60" x2="516.40" y2="259.60" stroke="#666" stroke-width="0.6" />
<line x1="513.20" y1="283.50" x2="516.40" y2="283.50" stroke="#666" stroke-width="0.6" />
<line x1="512.50" y1="270.20" x2="517.10" y2="270.20" stroke="#999" stroke-width="0.6" />
<rect x="513.45" y="261.45" width="2.70" height="2.70" fill="#9b1b1e" />
<rect x="513.45" y="263.65" width="2.70" height="2.70" fill="#9b1b1e" />
<rect x="513.45" y="281.45" width="2.70" height="2.70" fill="#9b1b1e" />
<line x1="526.00" y1="242.80" x2="526.00" y2="267.80" stroke="#666" stroke-width="0.6" />
<line x1="524.40" y1="242.80" x2="527.60" y2="242.80" stroke="#666" stroke-width="0.6" />
<line x1="524.40" y1="267.80" x2="527.60" y2="267.80" stroke="#666" stroke-width="0.6" />
<line x1="523.70" y1="254.50" x2="528.30" y2="254.50" stroke="#999" stroke-width="0.6" />
<rect x="524.65" y="241.45" width="2.70" height="2.70" fill="#9b1b1e" />
<rect x="524.65" y="251.65" width="2.70" height="2.70" fill="#9b1b1e" />
<rect x="524.65" y="266.45" width="2.70" height="2.70" fill="#9b1b1e" />
<line x1="537.40" y1="236.00" x2="537.40" y2="270.00" stroke="#666" stroke-width="0.6" />
<line x1="535.80" y1="236.00" x2="539.00" y2="236.00" stroke="#666" stroke-width="0.6" />
<line x1="535.80" y1="270.00" x2="539.00" y2="270.00" stroke="#666" stroke-width="0.6" />
<line x1="535.10" y1="252.00" x2="539.70" y2="252.00" stroke="#999" stroke-width="0.6" />
<rect x="536.05" y="237.55" width="2.70" height="2.70" fill="#9b1b1e" />
<rect x="536.05" y="245.65" width="2.70" height="2.70" fill="#9b1b1e" />
<rect x="536.05" y="268.65" width="2.70" height="2.70" fill="#9b1b1e" />
<line x1="548.40" y1="232.40" x2="548.40" y2="234.60" stroke="#666" stroke-width="0.6" />
<line x1="546.80" y1="232.40" x2="550.00" y2="232.40" stroke="#666" stroke-width="0.6" />
<line x1="546.80" y1="234.60" x2="550.00" y2="234.60" stroke="#666" stroke-width="0.6" />
<line x1="546.10" y1="233.50" x2="550.70" y2="233.50" stroke="#999" stroke-width="0.6" />
<rect x="547.05" y="231.05" width="2.70" height="2.70" fill="#9b1b1e" />
<rect x="547.05" y="233.25" width="2.70" height="2.70" fill="#9b1b1e" />
<line x1="559.50" y1="219.30" x2="559.50" y2="252.40" stroke="#666" stroke-width="0.6" />
<line x1="557.90" y1="219.30" x2="561.10" y2="219.30" stroke="#666" stroke-width="0.6" />
<line x1="557.90" y1="252.40" x2="561.10" y2="252.40" stroke="#666" stroke-width="0.6" />
<line x1="557.20" y1="237.30" x2="561.80" y2="237.30" stroke="#999" stroke-width="0.6" />
<rect x="558.15" y="217.95" width="2.70" height="2.70" fill="#9b1b1e" />
<rect x="558.15" y="243.85" width="2.70" height="2.70" fill="#9b1b1e" />
<rect x="558.15" y="245.55" width="2.70" height="2.70" fill="#9b1b1e" />
<line x1="570.60" y1="210.50" x2="570.60" y2="231.60" stroke="#666" stroke-width="0.6" />
<line x1="569.00" y1="210.50" x2="572.20" y2="210.50" stroke="#666" stroke-width="0.6" />
<line x1="569.00" y1="231.60" x2="572.20" y2="231.60" stroke="#666" stroke-width="0.6" />
<line x1="568.30" y1="222.50" x2="572.90" y2="222.50" stroke="#999" stroke-width="0.6" />
<rect x="569.25" y="209.15" width="2.70" height="2.70" fill="#9b1b1e" />
<rect x="569.25" y="223.25" width="2.70" height="2.70" fill="#9b1b1e" />
<rect x="569.25" y="230.25" width="2.70" height="2.70" fill="#9b1b1e" />
<line x1="581.60" y1="207.30" x2="581.60" y2="233.10" stroke="#666" stroke-width="0.6" />
<line x1="580.00" y1="207.30" x2="583.20" y2="207.30" stroke="#666" stroke-width="0.6" />
<line x1="580.00" y1="233.10" x2="583.20" y2="233.10" stroke="#666" stroke-width="0.6" />
<line x1="579.30" y1="221.50" x2="583.90" y2="221.50" stroke="#999" stroke-width="0.6" />
<rect x="580.25" y="205.95" width="2.70" height="2.70" fill="#9b1b1e" />
<rect x="580.25" y="220.15" width="2.70" height="2.70" fill="#9b1b1e" />
<rect x="580.25" y="231.75" width="2.70" height="2.70" fill="#9b1b1e" />
<line x1="592.60" y1="213.00" x2="592.60" y2="228.20" stroke="#666" stroke-width="0.6" />
<line x1="591.00" y1="213.00" x2="594.20" y2="213.00" stroke="#666" stroke-width="0.6" />
<line x1="591.00" y1="228.20" x2="594.20" y2="228.20" stroke="#666" stroke-width="0.6" />
<line x1="590.30" y1="221.50" x2="594.90" y2="221.50" stroke="#999" stroke-width="0.6" />
<rect x="591.25" y="211.65" width="2.70" height="2.70" fill="#9b1b1e" />
<rect x="591.25" y="223.25" width="2.70" height="2.70" fill="#9b1b1e" />
<rect x="591.25" y="226.85" width="2.70" height="2.70" fill="#9b1b1e" />
<text x="3.00" y="357.20" font-size="11.2" fill="#111" font-weight="bold">g</text>
<text x="71.40" y="371.20" font-size="8.4" fill="#363636" stroke="#363636" stroke-width="0.1" text-anchor="middle" textLength="57.00" lengthAdjust="spacingAndGlyphs">H3K27ac–APC</text>
<line x1="47.10" y1="381.60" x2="86.70" y2="381.60" stroke="#aaa" stroke-width="0.8" />
<text x="90.00" y="384.70" font-size="8.4" fill="#363636" stroke="#363636" stroke-width="0.1" textLength="44.90" lengthAdjust="spacingAndGlyphs"><tspan font-style="italic">P</tspan> = 0.0003</text>
<line x1="39.50" y1="382.50" x2="39.50" y2="469.40" stroke="#8a8a8a" stroke-width="0.8" />
<line x1="38.00" y1="469.40" x2="97.70" y2="469.40" stroke="#8a8a8a" stroke-width="0.8" />
<line x1="36.10" y1="382.50" x2="39.50" y2="382.50" stroke="#8a8a8a" stroke-width="0.8" />
<text x="34.00" y="385.30" font-size="8.0" fill="#363636" stroke="#363636" stroke-width="0.1" text-anchor="end">15</text>
<line x1="36.10" y1="411.40" x2="39.50" y2="411.40" stroke="#8a8a8a" stroke-width="0.8" />
<text x="34.00" y="414.20" font-size="8.0" fill="#363636" stroke="#363636" stroke-width="0.1" text-anchor="end">10</text>
<line x1="36.10" y1="440.40" x2="39.50" y2="440.40" stroke="#8a8a8a" stroke-width="0.8" />
<text x="34.00" y="443.20" font-size="8.0" fill="#363636" stroke="#363636" stroke-width="0.1" text-anchor="end">5</text>
<line x1="36.10" y1="469.40" x2="39.50" y2="469.40" stroke="#8a8a8a" stroke-width="0.8" />
<text x="34.00" y="472.20" font-size="8.0" fill="#363636" stroke="#363636" stroke-width="0.1" text-anchor="end">0</text>
<rect x="47.30" y="396.40" width="15.30" height="73.00" fill="none" stroke="#cc8689" stroke-width="0.8" />
<rect x="71.20" y="442.30" width="15.50" height="27.10" fill="none" stroke="#cc8689" stroke-width="0.8" />
<line x1="54.60" y1="469.40" x2="54.60" y2="472.20" stroke="#8a8a8a" stroke-width="0.8" />
<line x1="78.80" y1="469.40" x2="78.80" y2="472.20" stroke="#8a8a8a" stroke-width="0.8" />
<line x1="54.80" y1="390.20" x2="54.80" y2="401.00" stroke="#666" stroke-width="0.75" />
<line x1="50.90" y1="390.20" x2="58.70" y2="390.20" stroke="#666" stroke-width="0.75" />
<line x1="50.90" y1="401.00" x2="58.70" y2="401.00" stroke="#666" stroke-width="0.75" />
<line x1="78.70" y1="437.50" x2="78.70" y2="446.60" stroke="#666" stroke-width="0.75" />
<line x1="74.80" y1="437.50" x2="82.60" y2="437.50" stroke="#666" stroke-width="0.75" />
<line x1="74.80" y1="446.60" x2="82.60" y2="446.60" stroke="#666" stroke-width="0.75" />
<circle cx="54.80" cy="389.90" r="1.35" fill="#111"/>
<circle cx="51.60" cy="399.40" r="1.35" fill="#111"/>
<circle cx="58.20" cy="398.80" r="1.35" fill="#111"/>
<circle cx="78.40" cy="438.50" r="1.35" fill="#111"/>
<circle cx="78.70" cy="441.00" r="1.35" fill="#111"/>
<circle cx="78.70" cy="446.60" r="1.35" fill="#111"/>
<text x="19.40" y="425.00" font-size="8.4" fill="#363636" stroke="#363636" stroke-width="0.1" text-anchor="middle" transform="rotate(-90 19.40 425.00)" textLength="92.40" lengthAdjust="spacingAndGlyphs">Geometric mean (×10<tspan dy="-3" font-size="5.2">3</tspan><tspan dy="3">)</tspan></text>
<text x="57.50" y="478.50" font-size="8.4" fill="#363636" stroke="#363636" stroke-width="0.1" text-anchor="end" transform="rotate(-45 57.50 478.50)">DMSO</text>
<text x="83.00" y="479.00" font-size="8.6" fill="#363636" stroke="#363636" stroke-width="0.1" text-anchor="end" transform="rotate(-45 83.00 479.00)">2-DG</text>
<text x="226.80" y="354.80" font-size="11.2" fill="#111" font-weight="bold">h</text>
<text x="225.80" y="366.70" font-size="8.6" fill="#363636" stroke="#363636" stroke-width="0.1" textLength="59.60" lengthAdjust="spacingAndGlyphs">[U-<tspan dy="-3.6" font-size="5.6">13</tspan><tspan dy="3.6">C]glucose</tspan></text>
<line x1="286.20" y1="364.10" x2="297.40" y2="364.10" stroke="#3b5476" stroke-width="1.5"/>
<path d="M295.60,361.80 L300.40,364.10 L295.60,366.40 Z" fill="#3b5476"/>
<text x="301.80" y="366.70" font-size="8.6" fill="#363636" stroke="#363636" stroke-width="0.1" textLength="76.60" lengthAdjust="spacingAndGlyphs">[1,2-<tspan dy="-3.6" font-size="5.6">13</tspan><tspan dy="3.6">C]acetyl-CoA</tspan></text>
<line x1="265.10" y1="379.60" x2="309.90" y2="379.60" stroke="#aaa" stroke-width="0.8" />
<text x="314.60" y="382.70" font-size="8.4" fill="#363636" stroke="#363636" stroke-width="0.1" textLength="44.90" lengthAdjust="spacingAndGlyphs"><tspan font-style="italic">P</tspan> = 0.0002</text>
<line x1="259.70" y1="382.50" x2="259.70" y2="469.40" stroke="#8a8a8a" stroke-width="0.8" />
<line x1="256.40" y1="469.40" x2="317.00" y2="469.40" stroke="#8a8a8a" stroke-width="0.8" />
<line x1="256.30" y1="382.50" x2="259.70" y2="382.50" stroke="#8a8a8a" stroke-width="0.8" />
<text x="254.20" y="385.30" font-size="8.0" fill="#363636" stroke="#363636" stroke-width="0.1" text-anchor="end">2.5</text>
<line x1="256.30" y1="399.90" x2="259.70" y2="399.90" stroke="#8a8a8a" stroke-width="0.8" />
<text x="254.20" y="402.70" font-size="8.0" fill="#363636" stroke="#363636" stroke-width="0.1" text-anchor="end">2.0</text>
<line x1="256.30" y1="417.20" x2="259.70" y2="417.20" stroke="#8a8a8a" stroke-width="0.8" />
<text x="254.20" y="420.00" font-size="8.0" fill="#363636" stroke="#363636" stroke-width="0.1" text-anchor="end">1.5</text>
<line x1="256.30" y1="434.60" x2="259.70" y2="434.60" stroke="#8a8a8a" stroke-width="0.8" />
<text x="254.20" y="437.40" font-size="8.0" fill="#363636" stroke="#363636" stroke-width="0.1" text-anchor="end">1.0</text>
<line x1="256.30" y1="452.00" x2="259.70" y2="452.00" stroke="#8a8a8a" stroke-width="0.8" />
<text x="254.20" y="454.80" font-size="8.0" fill="#363636" stroke="#363636" stroke-width="0.1" text-anchor="end">0.5</text>
<line x1="256.30" y1="469.40" x2="259.70" y2="469.40" stroke="#8a8a8a" stroke-width="0.8" />
<text x="254.20" y="472.20" font-size="8.0" fill="#363636" stroke="#363636" stroke-width="0.1" text-anchor="end">0</text>
<rect x="268.10" y="433.30" width="15.80" height="36.10" fill="none" stroke="#9db4d3" stroke-width="0.8" />
<rect x="293.20" y="400.70" width="15.80" height="68.70" fill="none" stroke="#cc8689" stroke-width="0.8" />
<line x1="276.40" y1="469.40" x2="276.40" y2="472.20" stroke="#8a8a8a" stroke-width="0.8" />
<line x1="301.10" y1="469.40" x2="301.10" y2="472.20" stroke="#8a8a8a" stroke-width="0.8" />
<line x1="276.00" y1="428.40" x2="276.00" y2="436.70" stroke="#666" stroke-width="0.75" />
<line x1="272.10" y1="428.40" x2="279.90" y2="428.40" stroke="#666" stroke-width="0.75" />
<line x1="272.10" y1="436.70" x2="279.90" y2="436.70" stroke="#666" stroke-width="0.75" />
<line x1="301.10" y1="393.40" x2="301.10" y2="407.00" stroke="#666" stroke-width="0.75" />
<line x1="297.20" y1="393.40" x2="305.00" y2="393.40" stroke="#666" stroke-width="0.75" />
<line x1="297.20" y1="407.00" x2="305.00" y2="407.00" stroke="#666" stroke-width="0.75" />
<circle cx="270.80" cy="430.70" r="1.35" fill="#111"/>
<circle cx="276.00" cy="430.70" r="1.35" fill="#111"/>
<circle cx="280.70" cy="430.70" r="1.35" fill="#111"/>
<circle cx="276.40" cy="438.60" r="1.35" fill="#111"/>
<circle cx="298.50" cy="395.40" r="1.35" fill="#111"/>
<circle cx="304.00" cy="394.20" r="1.35" fill="#111"/>
<circle cx="301.10" cy="401.70" r="1.35" fill="#111"/>
<circle cx="301.10" cy="409.60" r="1.35" fill="#111"/>
<text x="235.90" y="426.40" font-size="8.4" fill="#363636" stroke="#363636" stroke-width="0.1" text-anchor="middle" transform="rotate(-90 235.90 426.40)" textLength="63.20" lengthAdjust="spacingAndGlyphs">Ion count (×10<tspan dy="-3" font-size="5.2">4</tspan><tspan dy="3">)</tspan></text>
<text x="282.10" y="479.50" font-size="8.8" fill="#4671a5" stroke="#4671a5" stroke-width="0.1" text-anchor="end" font-style="italic" transform="rotate(-45 282.10 479.50)">Pdcd1<tspan dy="-3.4" font-size="6.34" letter-spacing="0.3">+/+</tspan></text>
<text x="308.50" y="479.60" font-size="8.8" fill="#a22c32" stroke="#a22c32" stroke-width="0.1" text-anchor="end" font-style="italic" transform="rotate(-45 308.50 479.60)">Pdcd1<tspan dy="-3.4" font-size="6.34" letter-spacing="0.3">−/−</tspan></text>
<text x="479.60" y="354.80" font-size="11.2" fill="#111" font-weight="bold">i</text>
<text x="479.80" y="367.20" font-size="8.6" fill="#363636" stroke="#363636" stroke-width="0.1" textLength="59.10" lengthAdjust="spacingAndGlyphs">[U-<tspan dy="-3.6" font-size="5.6">13</tspan><tspan dy="3.6">C]glucose</tspan></text>
<line x1="540.00" y1="364.30" x2="550.80" y2="364.30" stroke="#3b5476" stroke-width="1.5"/>
<path d="M549.00,362.00 L553.80,364.30 L549.00,366.60 Z" fill="#3b5476"/>
<text x="556.90" y="367.20" font-size="8.6" fill="#363636" stroke="#363636" stroke-width="0.1" textLength="64.50" lengthAdjust="spacingAndGlyphs">H3K27ac (<tspan font-style="italic">m</tspan> + 2)</text>
<line x1="514.40" y1="378.90" x2="558.80" y2="378.90" stroke="#aaa" stroke-width="0.8" />
<text x="563.00" y="382.00" font-size="8.4" fill="#363636" stroke="#363636" stroke-width="0.1" textLength="35.90" lengthAdjust="spacingAndGlyphs"><tspan font-style="italic">P</tspan> = 0.047</text>
<line x1="508.50" y1="378.90" x2="508.50" y2="468.30" stroke="#8a8a8a" stroke-width="0.8" />
<line x1="504.50" y1="468.30" x2="567.80" y2="468.30" stroke="#8a8a8a" stroke-width="0.8" />
<line x1="505.10" y1="378.90" x2="508.50" y2="378.90" stroke="#8a8a8a" stroke-width="0.8" />
<text x="502.00" y="381.70" font-size="8.0" fill="#363636" stroke="#363636" stroke-width="0.1" text-anchor="end">5</text>
<line x1="505.10" y1="396.80" x2="508.50" y2="396.80" stroke="#8a8a8a" stroke-width="0.8" />
<text x="502.00" y="399.60" font-size="8.0" fill="#363636" stroke="#363636" stroke-width="0.1" text-anchor="end">4</text>
<line x1="505.10" y1="414.70" x2="508.50" y2="414.70" stroke="#8a8a8a" stroke-width="0.8" />
<text x="502.00" y="417.50" font-size="8.0" fill="#363636" stroke="#363636" stroke-width="0.1" text-anchor="end">3</text>
<line x1="505.10" y1="432.60" x2="508.50" y2="432.60" stroke="#8a8a8a" stroke-width="0.8" />
<text x="502.00" y="435.40" font-size="8.0" fill="#363636" stroke="#363636" stroke-width="0.1" text-anchor="end">2</text>
<line x1="505.10" y1="450.50" x2="508.50" y2="450.50" stroke="#8a8a8a" stroke-width="0.8" />
<text x="502.00" y="453.30" font-size="8.0" fill="#363636" stroke="#363636" stroke-width="0.1" text-anchor="end">1</text>
<line x1="505.10" y1="468.30" x2="508.50" y2="468.30" stroke="#8a8a8a" stroke-width="0.8" />
<text x="502.00" y="471.10" font-size="8.0" fill="#363636" stroke="#363636" stroke-width="0.1" text-anchor="end">0</text>
<rect x="517.20" y="448.50" width="15.60" height="19.80" fill="none" stroke="#9db4d3" stroke-width="0.8" />
<rect x="542.30" y="392.30" width="16.40" height="76.00" fill="none" stroke="#cc8689" stroke-width="0.8" />
<line x1="524.80" y1="468.30" x2="524.80" y2="471.20" stroke="#8a8a8a" stroke-width="0.8" />
<line x1="550.40" y1="468.30" x2="550.40" y2="471.20" stroke="#8a8a8a" stroke-width="0.8" />
<line x1="525.10" y1="431.70" x2="525.10" y2="464.90" stroke="#aaa" stroke-width="0.75" />
<line x1="521.20" y1="431.70" x2="529.00" y2="431.70" stroke="#aaa" stroke-width="0.75" />
<line x1="521.20" y1="464.90" x2="529.00" y2="464.90" stroke="#aaa" stroke-width="0.75" />
<line x1="550.60" y1="388.80" x2="550.60" y2="394.70" stroke="#666" stroke-width="0.75" />
<line x1="546.70" y1="388.80" x2="554.50" y2="388.80" stroke="#666" stroke-width="0.75" />
<line x1="546.70" y1="394.70" x2="554.50" y2="394.70" stroke="#666" stroke-width="0.75" />
<circle cx="525.10" cy="432.30" r="1.35" fill="#111"/>
<circle cx="525.10" cy="445.70" r="1.35" fill="#111"/>
<circle cx="525.10" cy="465.00" r="1.35" fill="#111"/>
<rect x="546.50" y="388.50" width="2.60" height="2.60" fill="#111" />
<rect x="551.80" y="388.50" width="2.60" height="2.60" fill="#111" />
<rect x="549.30" y="394.40" width="2.60" height="2.60" fill="#111" />
<text x="490.90" y="423.80" font-size="8.4" fill="#363636" stroke="#363636" stroke-width="0.1" text-anchor="middle" transform="rotate(-90 490.90 423.80)" textLength="72.10" lengthAdjust="spacingAndGlyphs">Relative levels (%)</text>
<text x="531.00" y="478.50" font-size="8.8" fill="#4671a5" stroke="#4671a5" stroke-width="0.1" text-anchor="end" font-style="italic" transform="rotate(-45 531.00 478.50)">Pdcd1<tspan dy="-3.4" font-size="6.34" letter-spacing="0.3">+/+</tspan></text>
<text x="557.20" y="479.00" font-size="8.8" fill="#a22c32" stroke="#a22c32" stroke-width="0.1" text-anchor="end" font-style="italic" transform="rotate(-45 557.20 479.00)">Pdcd1<tspan dy="-3.4" font-size="6.34" letter-spacing="0.3">−/−</tspan></text>
</svg></body></html>
